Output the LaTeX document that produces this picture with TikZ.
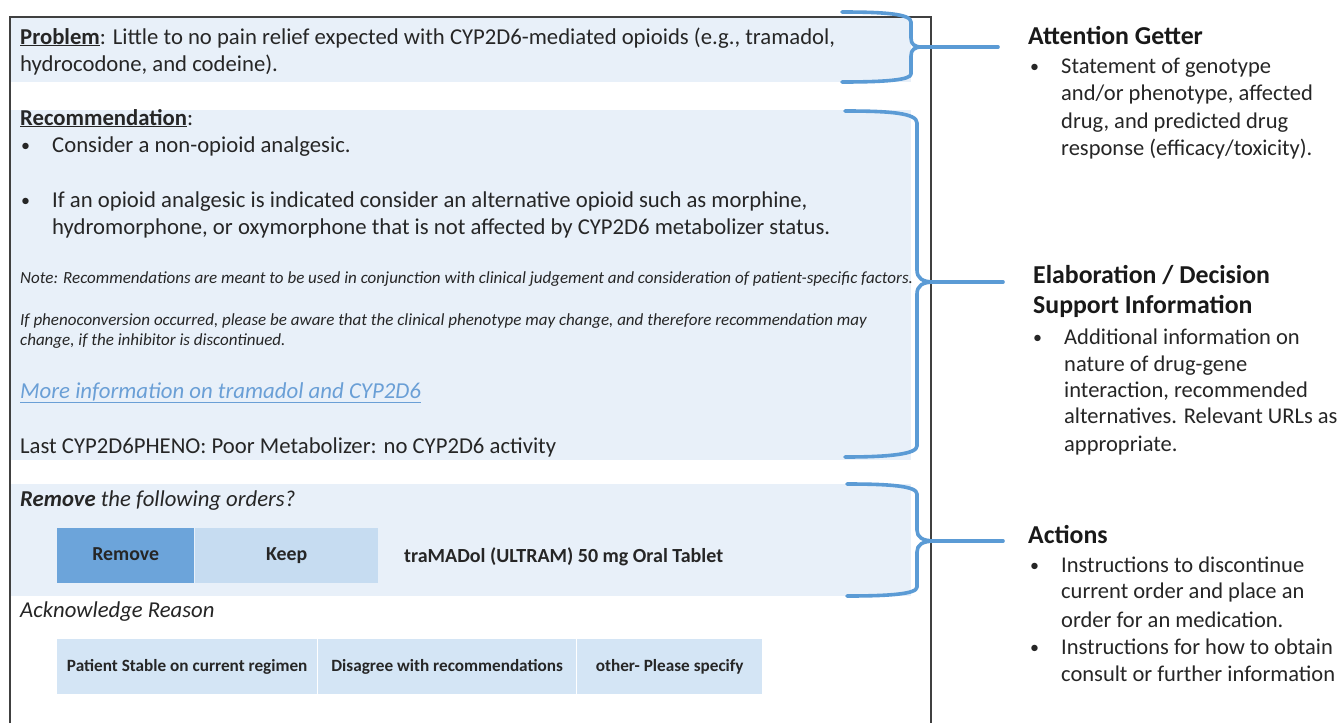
\documentclass[tikz,border=0pt]{standalone}
\usepackage{fontspec}
\setmainfont{Carlito}
\definecolor{band}{HTML}{E8F0F9}
\definecolor{remblue}{HTML}{6CA4DA}
\definecolor{keepblue}{HTML}{C6DCF1}
\definecolor{reasonblue}{HTML}{D4E5F5}
\definecolor{bracecol}{HTML}{5B9BD5}
\definecolor{linkcol}{HTML}{6A9FD6}
\definecolor{txtcol}{HTML}{262626}
\definecolor{framecol}{HTML}{404040}
\begin{document}
\begin{tikzpicture}[x=1pt,y=-1pt,
  maintext/.style={anchor=base west, inner sep=0pt, text=txtcol, font=\fontsize{22.7}{26}\selectfont},
  notetext/.style={anchor=base west, inner sep=0pt, text=txtcol, font=\fontsize{17}{20}\selectfont\itshape},
  linktext/.style={anchor=base west, inner sep=0pt, text=linkcol, font=\fontsize{22.8}{26}\selectfont\itshape},
  sidehead/.style={anchor=base west, inner sep=0pt, text=black!90, font=\fontsize{25.8}{30}\selectfont\bfseries},
  sidetext/.style={anchor=base west, inner sep=0pt, text=black!85, font=\fontsize{22.5}{26}\selectfont},
  btn/.style={anchor=north west, inner sep=0pt, text height=0.9em, text depth=0em, text=txtcol, font=\fontsize{19.8}{23}\selectfont\bfseries},
  rbtn/.style={anchor=north west, inner sep=0pt, text height=0.9em, text depth=0em, fill=reasonblue, text=txtcol, font=\fontsize{17.2}{20}\selectfont\bfseries},
  bracestyle/.style={draw=bracecol, line width=3.6pt, line cap=round, line join=round},
]
\useasboundingbox (0,0) rectangle (1341,723);
\fill[white] (0,0) rectangle (1341,723);
% bands
\fill[band] (10,17) rectangle (911,82);
\fill[band] (10,110) rectangle (911,460);
\fill[band] (10,484) rectangle (911,596);
% frame
\draw[framecol, line width=1.1pt] (10,723) -- (10,17) -- (931,17) -- (931,723);

% problem
\node[maintext] (prob1) at (20,44) {\underline{\textbf{Problem}}: Little to no pain relief expected with CYP2D6-mediated opioids (e.g., tramadol,};
\node[maintext] (prob2) at (20,71) {hydrocodone, and codeine).};
% recommendation
\node[maintext] (rec) at (20,125) {\underline{\textbf{Recommendation}}:};
\node[maintext, font=\fontsize{18}{22}\selectfont] (b1dot) at (21,151) {•};
\node[maintext] (b1) at (52,152) {Consider a non-opioid analgesic.};
\node[maintext, font=\fontsize{18}{22}\selectfont] (b2dot) at (21,206) {•};
\node[maintext] (b2a) at (52,207) {If an opioid analgesic is indicated consider an alternative opioid such as morphine,};
\node[maintext] (b2b) at (52,234) {hydromorphone, or oxymorphone that is not affected by CYP2D6 metabolizer status.};
\node[notetext] (note) at (20,283) {Note: Recommendations are meant to be used in conjunction with clinical judgement and consideration of patient-specific factors.};
\node[notetext] (phen1) at (20,325) {If phenoconversion occurred, please be aware that the clinical phenotype may change, and therefore recommendation may};
\node[notetext] (phen2) at (20,345) {change, if the inhibitor is discontinued.};
\node[linktext] (link) at (20,398) {\underline{More information on tramadol and CYP2D6}};
\node[maintext] (last) at (20,453) {Last CYP2D6PHENO: Poor Metabolizer: no CYP2D6 activity};
% actions
\node[maintext] (remq) at (20,506) {\textbf{\itshape Remove} \itshape the following orders?};
\node[btn, fill=remblue, minimum width=137pt, minimum height=55pt] (rembtn) at (57,528) {Remove};
\node[btn, fill=keepblue, minimum width=183pt, minimum height=55pt] (keepbtn) at (195,528) {Keep};
\node[maintext, font=\fontsize{20}{24}\selectfont\bfseries] (drug) at (404,562) {traMADol (ULTRAM) 50 mg Oral Tablet};
\node[maintext, font=\fontsize{22.7}{26}\selectfont\itshape] (ack) at (20,617) {Acknowledge Reason};
\node[rbtn, minimum width=260pt, minimum height=55pt] (r1) at (57,639) {Patient Stable on current regimen};
\node[rbtn, minimum width=258pt, minimum height=55pt] (r2) at (318,639) {Disagree with recommendations};
\node[rbtn, minimum width=185pt, minimum height=55pt] (r3) at (577,639) {other- Please specify};

% braces
\coordinate (t1) at (922,47);
\coordinate (e1) at (998,47);
\draw[bracestyle] (842,12) .. controls (885,12) and (911,14) .. (911,22) -- (911,38) .. controls (911,44) and (914,47) .. (t1)
  .. controls (914,47) and (911,50) .. (911,56) -- (911,74) .. controls (911,80) and (885,82) .. (842,82);
\draw[bracestyle] (t1) -- (e1);

\coordinate (t2) at (934,282);
\coordinate (e2) at (1003,282);
\draw[bracestyle] (845,111) .. controls (890,111) and (917,113) .. (917,123) -- (917,270) .. controls (917,278) and (922,282) .. (t2)
  .. controls (922,282) and (917,286) .. (917,294) -- (917,446) .. controls (917,454) and (890,457) .. (845,457);
\draw[bracestyle] (t2) -- (e2);

\coordinate (t3) at (935,541);
\coordinate (e3) at (1003,541);
\draw[bracestyle] (847,484) .. controls (890,484) and (917,486) .. (917,494) -- (917,530) .. controls (917,537) and (922,541) .. (t3)
  .. controls (922,541) and (917,545) .. (917,552) -- (917,587) .. controls (917,594) and (890,596) .. (847,596);
\draw[bracestyle] (t3) -- (e3);

% side texts
\node[sidehead] (agh) at (1028,44) {Attention Getter};
\node[sidetext, font=\fontsize{18}{22}\selectfont] (agdot) at (1030,72) {•};
\node[sidetext] (ag1) at (1061,73) {Statement of genotype};
\node[sidetext] (ag2) at (1061,100) {and/or phenotype, affected};
\node[sidetext] (ag3) at (1061,128) {drug, and predicted drug};
\node[sidetext] (ag4) at (1061,155) {response (efficacy/toxicity).};

\node[sidehead] (elh1) at (1033,283) {Elaboration / Decision};
\node[sidehead] (elh2) at (1033,313) {Support Information};
\node[sidetext, font=\fontsize{18}{22}\selectfont] (eldot) at (1033,343) {•};
\node[sidetext] (el1) at (1064,344) {Additional information on};
\node[sidetext] (el2) at (1064,371) {nature of drug-gene};
\node[sidetext] (el3) at (1064,397) {interaction, recommended};
\node[sidetext] (el4) at (1064,423) {alternatives. Relevant URLs as};
\node[sidetext] (el5) at (1064,451) {appropriate.};

\node[sidehead] (ach) at (1028,543) {Actions};
\node[sidetext, font=\fontsize{18}{22}\selectfont] (acdot1) at (1030,571) {•};
\node[sidetext] (ac1) at (1061,572) {Instructions to discontinue};
\node[sidetext] (ac2) at (1061,598) {current order and place an};
\node[sidetext] (ac3) at (1061,627) {order for an medication.};
\node[sidetext, font=\fontsize{18}{22}\selectfont] (acdot2) at (1030,653) {•};
\node[sidetext] (ac4) at (1061,654) {Instructions for how to obtain};
\node[sidetext] (ac5) at (1061,681) {consult or further information};
\end{tikzpicture}
\end{document}
